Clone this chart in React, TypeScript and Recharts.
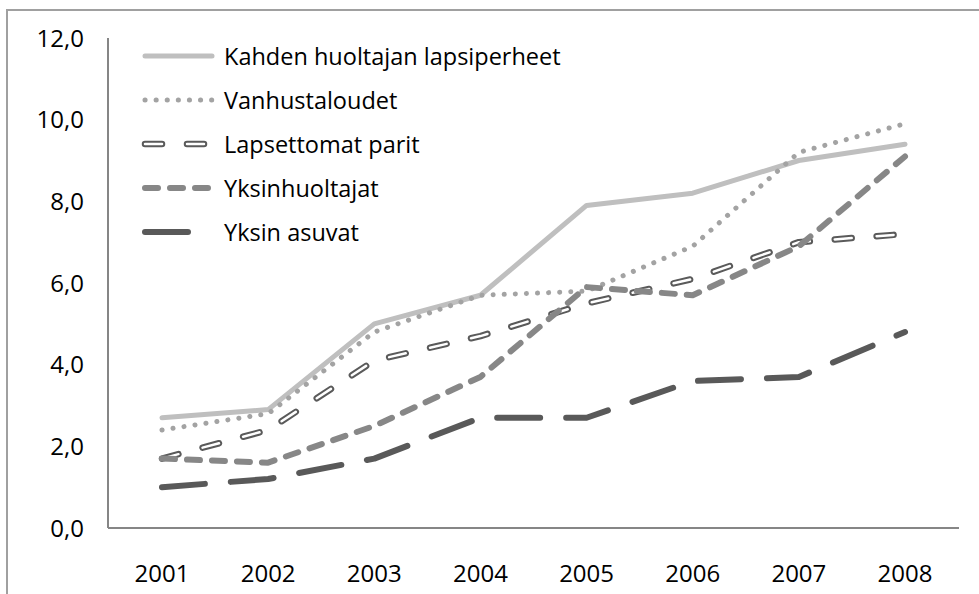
import { Legend, Line, LineChart, XAxis, YAxis } from "recharts";

const years = ["2001", "2002", "2003", "2004", "2005", "2006", "2007", "2008"];
const kahdenHuoltajan = [2.7, 2.9, 5.0, 5.7, 7.9, 8.2, 9.0, 9.4];
const vanhustaloudet = [2.4, 2.8, 4.8, 5.7, 5.8, 6.9, 9.2, 9.9];
const lapsettomatParit = [1.7, 2.4, 4.1, 4.7, 5.5, 6.1, 7.0, 7.2];
const yksinhuoltajat = [1.7, 1.6, 2.5, 3.7, 5.9, 5.7, 6.9, 9.1];
const yksinAsuvat = [1.0, 1.2, 1.7, 2.7, 2.7, 3.6, 3.7, 4.8];
const yTicks = [0, 2, 4, 6, 8, 10, 12];

type SeriesStyle = {
  key: string;
  name: string;
  color: string;
  width: number;
  dash?: string;
  inner?: string;
};

const SERIES: SeriesStyle[] = [
  { key: "kahden", name: "Kahden huoltajan lapsiperheet", color: "#bfbfbf", width: 5 },
  { key: "vanhus", name: "Vanhustaloudet", color: "#a3a3a3", width: 5, dash: "0.1 11" },
  { key: "lapsettomat", name: "Lapsettomat parit", color: "#5a5a5a", width: 6.5, dash: "17 25", inner: "#ffffff" },
  { key: "yksinhuoltajat", name: "Yksinhuoltajat", color: "#878787", width: 6, dash: "13 12" },
  { key: "yksin", name: "Yksin asuvat", color: "#595959", width: 6, dash: "43 26" }
];

const data = years.map((year, i) => ({
  year,
  kahden: kahdenHuoltajan[i],
  vanhus: vanhustaloudet[i],
  lapsettomat: lapsettomatParit[i],
  yksinhuoltajat: yksinhuoltajat[i],
  yksin: yksinAsuvat[i]
}));

const FONT = "'Open Sans', sans-serif";

function formatTick(value: number): string {
  return value.toFixed(1).replace(".", ",");
}

function LegendRows() {
  return (
    <div style={{ fontFamily: FONT, fontSize: 23.5, color: "#000" }}>
      {SERIES.map((s) => (
        <div key={s.key} style={{ display: "flex", alignItems: "center", height: 44 }}>
          <svg width={84} height={12} style={{ display: "block" }}>
            <line
              x1={5}
              y1={6}
              x2={72}
              y2={6}
              stroke={s.color}
              strokeWidth={s.width}
              strokeDasharray={s.dash}
              strokeLinecap="round"
            />
            {s.inner ? (
              <line
                x1={5}
                y1={6}
                x2={72}
                y2={6}
                stroke={s.inner}
                strokeWidth={2.5}
                strokeDasharray={s.dash}
                strokeLinecap="round"
              />
            ) : null}
          </svg>
          <span style={{ lineHeight: "44px" }}>{s.name}</span>
        </div>
      ))}
    </div>
  );
}

export default function App() {
  return (
    <div
      style={{
        position: "absolute",
        left: 0,
        top: 0,
        width: 979,
        height: 594,
        overflow: "hidden",
        background: "#fff"
      }}
    >
      <div
        style={{
          position: "absolute",
          left: 6,
          top: 9,
          width: 1100,
          height: 800,
          borderTop: "2px solid #a0a0a0",
          borderLeft: "2px solid #a0a0a0"
        }}
      />
      <LineChart
        width={979}
        height={594}
        data={data}
        margin={{ top: 38, right: 20, bottom: 16, left: 28 }}
      >
        <XAxis
          dataKey="year"
          height={50}
          padding={{ left: 54, right: 54 }}
          axisLine={{ stroke: "#868686", strokeWidth: 2 }}
          tickLine={false}
          tickSize={0}
          tickMargin={37}
          tick={{ fill: "#000", fontSize: 24, fontFamily: FONT }}
        />
        <YAxis
          domain={[0, 12]}
          ticks={yTicks}
          width={80}
          tickFormatter={formatTick}
          axisLine={{ stroke: "#868686", strokeWidth: 2 }}
          tickLine={false}
          tickSize={0}
          tickMargin={24}
          tick={{ fill: "#000", fontSize: 24, fontFamily: FONT }}
        />
        <Legend
          layout="horizontal"
          verticalAlign="middle"
          align="center"
          wrapperStyle={{ top: 34, left: 140, width: 500, height: 230 }}
          content={() => <LegendRows />}
        />
        {SERIES.map((s) => [
          <Line
            key={s.key}
            type="linear"
            dataKey={s.key}
            name={s.name}
            stroke={s.color}
            strokeWidth={s.width}
            strokeDasharray={s.dash}
            strokeLinecap="round"
            strokeLinejoin="round"
            dot={false}
            activeDot={false}
            isAnimationActive={false}
          />,
          s.inner ? (
            <Line
              key={`${s.key}-inner`}
              type="linear"
              dataKey={s.key}
              legendType="none"
              stroke={s.inner}
              strokeWidth={2.5}
              strokeDasharray={s.dash}
              strokeLinecap="round"
              strokeLinejoin="round"
              dot={false}
              activeDot={false}
              isAnimationActive={false}
            />
          ) : null
        ])}
      </LineChart>
    </div>
  );
}
